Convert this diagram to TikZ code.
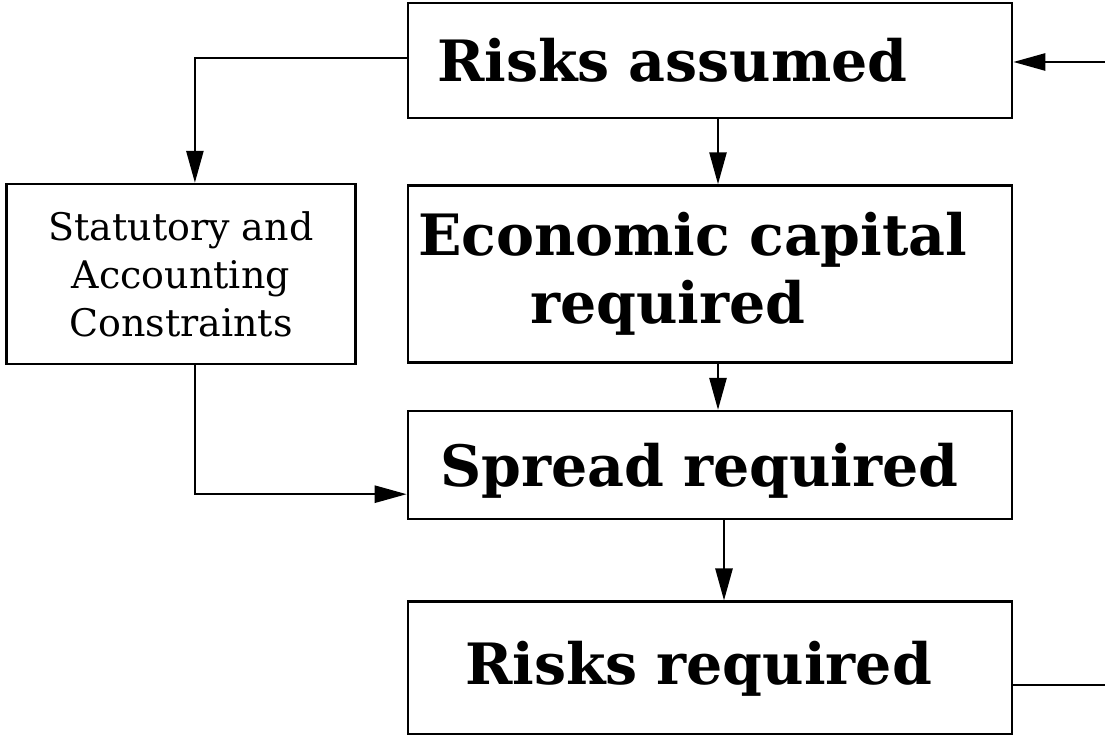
\documentclass[tikz,border=0pt]{standalone}
\usepackage{fontspec}
\setmainfont{DejaVu Serif}
\usetikzlibrary{arrows.meta,positioning}

\tikzset{
  box/.style={draw, line width=2.6pt, minimum width=604pt, align=left,
    font=\fontsize{57}{68}\selectfont\bfseries},
  sidebox/.style={draw, line width=2.6pt, minimum width=349pt, minimum height=180pt,
    align=center, font=\fontsize{38}{48}\selectfont}
}

\begin{document}
\begin{tikzpicture}[x=1pt,y=1pt,>={Triangle[length=32pt,width=17pt]},line width=2.6pt]

\useasboundingbox (0,0) rectangle (1105,735);

\node[box,minimum height=115pt,inner xsep=29pt,text width=546pt] (ra) at (710,674.5) {Risks assumed};
\node[box,minimum height=177pt,inner xsep=10pt,text width=584pt] (econ) [below=65pt of ra] {Economic capital\\\hspace*{112pt}required};
\node[box,minimum height=108pt,inner xsep=32pt,text width=540pt,text depth=0pt] (spread) [below=46pt of econ] {Spread required};
\node[box,minimum height=133pt,inner xsep=57pt,text width=490pt] (rr) [below=80pt of spread] {Risks required};
\node[sidebox] (stat) [left=50pt of econ] {Statutory and\\Accounting\\Constraints};

\coordinate (inR) at (1105,673);
\coordinate (outR) at (1105,50);

	\draw[->] (inR) -- (inR -| ra.east);
	\draw[->] ([yshift=2.5pt]ra.west) -| ([xshift=14pt]stat.north);
	\draw[->] ([xshift=8pt]ra.south) -- ([xshift=8pt]econ.north);
	\draw[->] ([xshift=8pt]econ.south) -- ([xshift=8pt]spread.north);
	\draw[->] ([xshift=14pt]spread.south) -- ([xshift=14pt]rr.north);
	\draw[->] ([xshift=14pt]stat.south) |- ([yshift=-29pt]spread.west);
	\draw (rr.east |- outR) -- (outR);
\end{tikzpicture}
\end{document}
